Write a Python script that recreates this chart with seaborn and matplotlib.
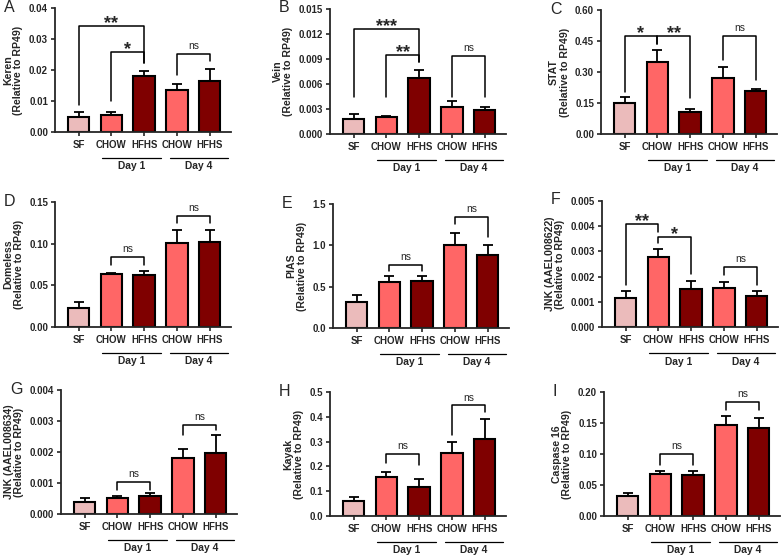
import numpy as np
import pandas as pd
import matplotlib
matplotlib.use('Agg')
import matplotlib.pyplot as plt
import matplotlib.transforms as mtransforms
import seaborn as sns

# =========================
# DATA (mean + SEM)
# =========================
groups = ["SF", "CHOW D1", "HFHS D1", "CHOW D4", "HFHS D4"]
tick_labels = ["SF", "CHOW", "HFHS", "CHOW", "HFHS"]
bar_colors = ["#EBBBBB", "#FF6666", "#7F0000", "#FF6666", "#7F0000"]

keren_mean = [0.0050, 0.0056, 0.0180, 0.0137, 0.0163]
keren_sem = [0.0013, 0.0010, 0.0017, 0.0018, 0.0041]
vein_mean = [0.0018, 0.0021, 0.0067, 0.0033, 0.0029]
vein_sem = [0.0006, 0.0001, 0.0010, 0.0007, 0.0004]
stat_mean = [0.152, 0.346, 0.106, 0.272, 0.210]
stat_sem = [0.029, 0.059, 0.016, 0.054, 0.008]
domeless_mean = [0.0232, 0.0640, 0.0620, 0.1012, 0.1016]
domeless_sem = [0.0072, 0.0008, 0.0056, 0.0148, 0.0154]
pias_mean = [0.314, 0.551, 0.571, 1.005, 0.885]
pias_sem = [0.088, 0.072, 0.060, 0.149, 0.116]
jnk622_mean = [0.00115, 0.00276, 0.00150, 0.00155, 0.00123]
jnk622_sem = [0.00027, 0.00034, 0.00034, 0.00024, 0.00020]
jnk634_mean = [0.00039, 0.00052, 0.00057, 0.00180, 0.00197]
jnk634_sem = [0.00013, 0.00005, 0.00011, 0.00031, 0.00057]
kayak_mean = [0.062, 0.156, 0.116, 0.254, 0.312]
kayak_sem = [0.015, 0.021, 0.032, 0.043, 0.078]
casp_mean = [0.0328, 0.0677, 0.0656, 0.1468, 0.1425]
casp_sem = [0.0048, 0.0043, 0.0064, 0.0140, 0.0155]

# brackets: (left bar, right bar, label, top, left leg end, right leg end)
keren_sig = [(0, 2, "**", 0.0343, 0.0088, 0.0223), (1, 2, "*", 0.0258, 0.0099, 0.0223),
             (3, 4, "ns", 0.0252, 0.0185, 0.0228)]
vein_sig = [(0, 2, "***", 0.0126, 0.0045, 0.0086), (1, 2, "**", 0.0095, 0.0045, 0.0086),
            (3, 4, "ns", 0.0094, 0.0045, 0.0045)]
stat_sig = [(0, 1, "*", 0.474, 0.205, 0.437), (1, 2, "**", 0.474, 0.437, 0.173),
            (3, 4, "ns", 0.474, 0.357, 0.261)]
domeless_sig = [(1, 2, "ns", 0.084, 0.074, 0.074), (3, 4, "ns", 0.1328, 0.1248, 0.1248)]
pias_sig = [(1, 2, "ns", 0.764, 0.692, 0.692), (3, 4, "ns", 1.339, 1.255, 1.099)]
jnk622_sig = [(0, 1, "**", 0.00407, 0.00168, 0.00378), (1, 2, "*", 0.00358, 0.00332, 0.00212),
              (3, 4, "ns", 0.00239, 0.00206, 0.00168)]
jnk634_sig = [(1, 2, "ns", 0.00103, 0.00076, 0.00076), (3, 4, "ns", 0.00287, 0.00255, 0.00271)]
kayak_sig = [(1, 2, "ns", 0.251, 0.214, 0.207), (3, 4, "ns", 0.446, 0.325, 0.419)]
casp_sig = [(1, 2, "ns", 0.0995, 0.0828, 0.0828), (3, 4, "ns", 0.184, 0.1715, 0.1704)]

panels = [
    ("A", "Keren", keren_mean, keren_sem, keren_sig, 0.04, 0.01, "%.2f"),
    ("B", "Vein", vein_mean, vein_sem, vein_sig, 0.015, 0.003, "%.3f"),
    ("C", "STAT", stat_mean, stat_sem, stat_sig, 0.60, 0.15, "%.2f"),
    ("D", "Domeless", domeless_mean, domeless_sem, domeless_sig, 0.15, 0.05, "%.2f"),
    ("E", "PIAS", pias_mean, pias_sem, pias_sig, 1.5, 0.5, "%.1f"),
    ("F", "JNK (AAEL008622)", jnk622_mean, jnk622_sem, jnk622_sig, 0.005, 0.001, "%.3f"),
    ("G", "JNK (AAEL008634)", jnk634_mean, jnk634_sem, jnk634_sig, 0.004, 0.001, "%.3f"),
    ("H", "Kayak", kayak_mean, kayak_sem, kayak_sig, 0.5, 0.1, "%.1f"),
    ("I", "Caspase 16", casp_mean, casp_sem, casp_sig, 0.20, 0.05, "%.2f"),
]

# axes placement in pixels: left, top, bottom
boxes = [(55, 8, 132), (330, 9, 134), (601, 10, 134),
         (55, 202, 327), (333, 204, 328), (602, 201, 327),
         (61, 390, 514), (330, 392, 516), (604, 392, 516)]

# =========================
# STYLE
# =========================
sns.set_style("ticks")
plt.rcParams['font.family'] = ['Liberation Sans', 'DejaVu Sans']
plt.rcParams['axes.linewidth'] = 1.3

W, H = 784, 556
fig = plt.figure(figsize=(W / 100, H / 100), dpi=100)

AX_W = 176
XLIM = (-0.72, 4.65)

for (letter, gene, means, sems, sigs, ymax, ystep, fmt), (lx, ty, by) in zip(panels, boxes):
    ax = fig.add_axes([lx / W, 1 - by / H, AX_W / W, (by - ty) / H])

    df = pd.DataFrame({"group": groups, "value": means})
    sns.barplot(data=df, x="group", y="value", hue="group", order=groups,
                palette=bar_colors, saturation=1, edgecolor="black", linewidth=1.5,
                width=0.65, legend=False, ax=ax, zorder=2)
    xs = np.arange(len(groups))
    ax.errorbar(xs, means, yerr=[np.zeros(len(sems)), sems], fmt="none",
                ecolor="black", elinewidth=1.3, capsize=3.5, capthick=1.3, zorder=3)

    ax.set_xlim(*XLIM)
    ax.set_ylim(0, ymax)
    ax.set_yticks(np.arange(0, ymax + ystep / 2, ystep))
    ax.yaxis.set_major_formatter(matplotlib.ticker.FormatStrFormatter(fmt))
    ax.set_xticks(xs)
    ax.set_xticklabels(tick_labels, fontsize=7.0, fontweight="bold")
    for t in ax.get_yticklabels():
        t.set_fontsize(7.0)
        t.set_fontweight("bold")
    ax.tick_params(axis="y", length=3, width=1.2, pad=2)
    ax.tick_params(axis="x", length=3, width=1.2, pad=3)
    ax.set_xlabel("")
    ax.set_ylabel(gene + "\n(Relative to RP49)", fontsize=7.6, fontweight="bold",
                  labelpad=4, linespacing=1.05)
    sns.despine(ax=ax)

    # day group lines and labels
    trans = mtransforms.blended_transform_factory(ax.transData, ax.transAxes)
    for x0, x1, lab in [(0.72, 2.5, "Day 1"), (2.78, 4.55, "Day 4")]:
        ax.plot([x0, x1], [-0.21, -0.21], color="black", lw=0.9,
                transform=trans, clip_on=False)
        ax.text((x0 + x1) / 2, -0.235, lab, transform=trans, ha="center", va="top",
                fontsize=7.4, fontweight="bold")

    # significance brackets
    for i, j, lab, top, yl, yr in sigs:
        ax.plot([i, i, j, j], [yl, top, top, yr], color="black", lw=1.1,
                clip_on=False, zorder=4)
        if lab == "ns":
            ax.annotate(lab, ((i + j) / 2, top), xytext=(0, 3.5), textcoords="offset points",
                        ha="center", va="baseline", fontsize=7.4)
        else:
            ax.annotate(lab, ((i + j) / 2, top), xytext=(0, -1.5), textcoords="offset points",
                        ha="center", va="baseline", fontsize=13, fontweight="bold")

    # panel letter
    fig.text((lx - 51) / W, 1 - (ty - 1) / H, letter, ha="left", va="center", fontsize=11.5)

fig.savefig("out.png", dpi=100)
